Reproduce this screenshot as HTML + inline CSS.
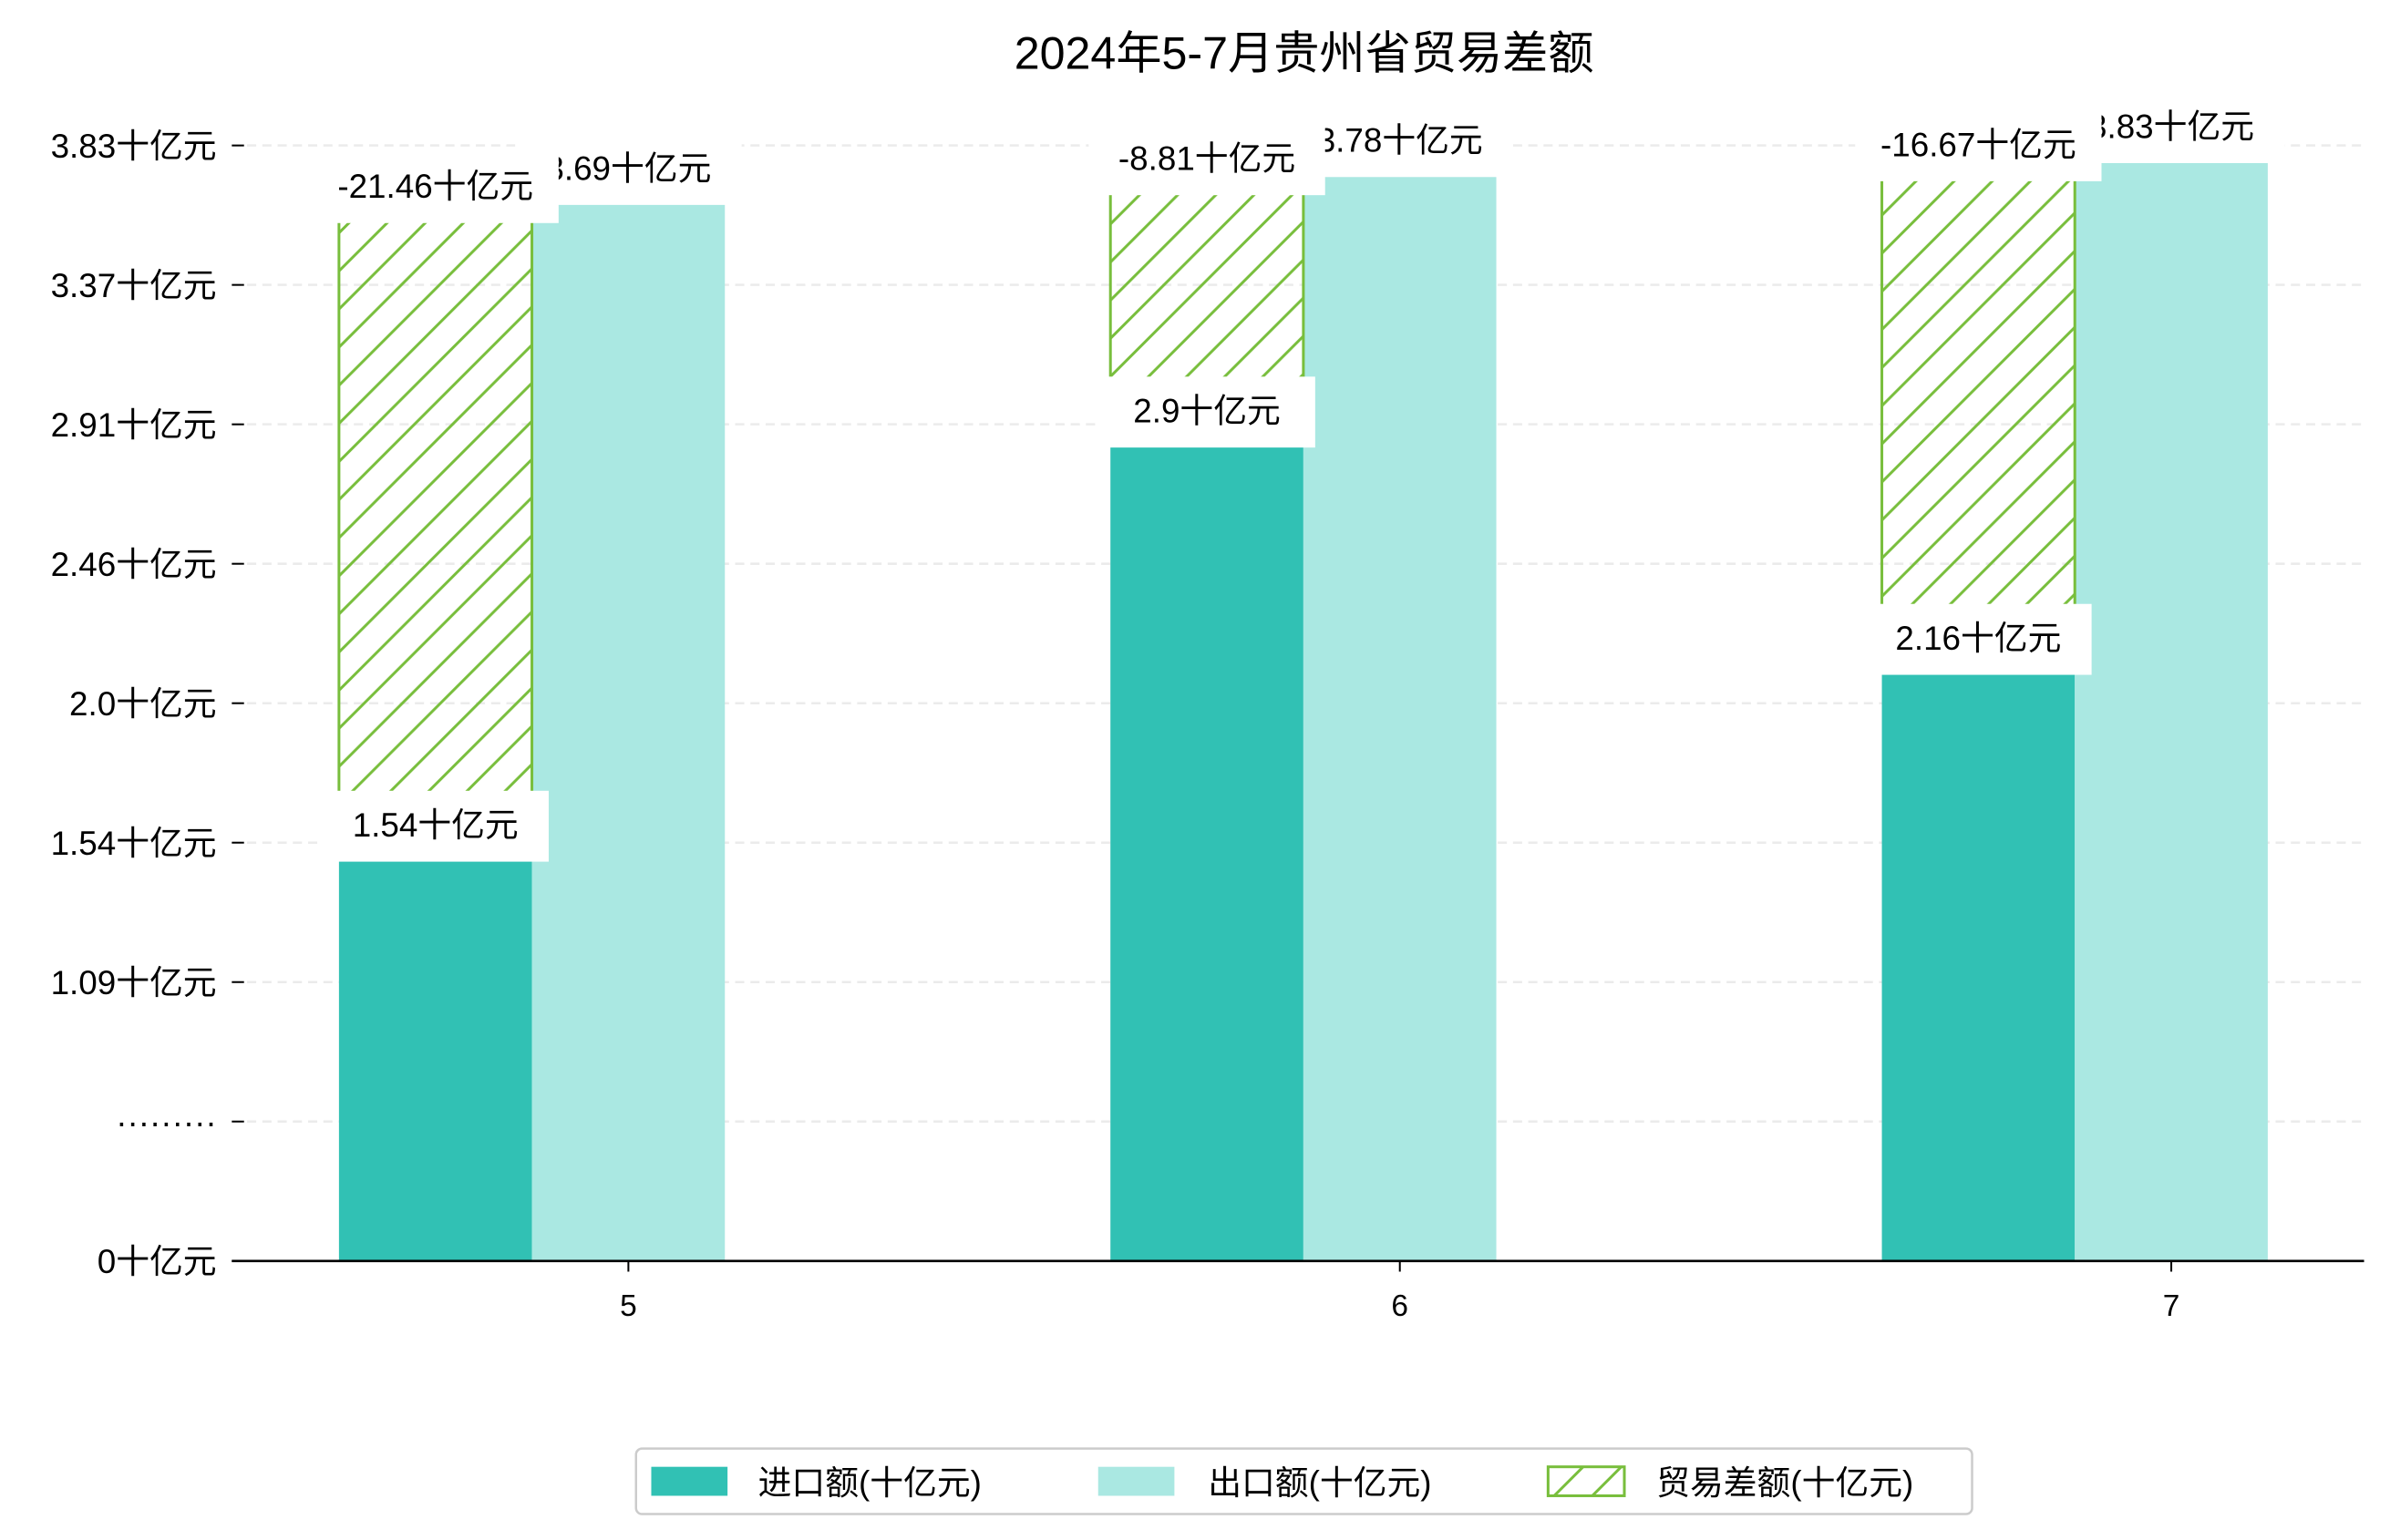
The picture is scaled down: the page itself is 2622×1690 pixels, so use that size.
<!DOCTYPE html>
<html><head><meta charset="utf-8">
<style>
html,body{margin:0;padding:0;background:#fff;}
svg{display:block;}
text{font-family:"Liberation Sans","Noto Sans CJK SC",sans-serif;}
</style></head>
<body>
<svg id="chart" width="2622" height="1690" viewBox="0 0 1567 1010" xmlns="http://www.w3.org/2000/svg">
<defs>
<pattern id="hatch" patternUnits="userSpaceOnUse" width="25" height="25">
<path d="M-5,30 L30,-5 M-30,30 L30,-30 M0,50 L50,0" stroke="#78be3c" stroke-width="1.8"/>
</pattern>
</defs>
<text x="855" y="45" font-size="30" text-anchor="middle" fill="#000">2024年5-7月贵州省贸易差额</text>
<g id="grid"></g>
<g id="bars"></g>
<g id="labels"></g>
<g id="axes"></g>
<g>
<rect x="417" y="950" width="876" height="43" rx="4" fill="#fff" stroke="#cccccc" stroke-width="1.5"/>
<rect x="427" y="962" width="50" height="19" fill="#31c1b4"/>
<text x="497" y="980" font-size="22">进口额(十亿元)</text>
<rect x="720" y="962" width="50" height="19" fill="#aae8e2"/>
<text x="792" y="980" font-size="22">出口额(十亿元)</text>
<rect x="1015" y="962" width="50" height="19" fill="url(#hatch)" stroke="#78be3c" stroke-width="1.8"/>
<text x="1086" y="980" font-size="22">贸易差额(十亿元)</text>
</g>
</svg>
<script>
const categories = ["5", "6", "7"];
const yTickLabels = ["0十亿元", "·········", "1.09十亿元", "1.54十亿元", "2.0十亿元", "2.46十亿元", "2.91十亿元", "3.37十亿元", "3.83十亿元"];
// bar heights in axis units (one unit per tick step)
const importValues = [2.88, 5.85, 4.22];
const exportValues = [7.59, 7.79, 7.89];
const balanceTops = [7.46, 7.66, 7.76];
const importLabels = ["1.54十亿元", "2.9十亿元", "2.16十亿元"];
const exportLabels = ["3.69十亿元", "3.78十亿元", "3.83十亿元"];
const balanceLabels = ["-21.46十亿元", "-8.81十亿元", "-16.67十亿元"];

const NS = "http://www.w3.org/2000/svg";
const X0 = 152, X1 = 1550, Y0 = 827, STEP = 91.45;
const CAT0 = 412, CATSTEP = 505.8, BW = 126.5;
function yScale(v){ return Y0 - v * STEP; }
function xCenter(i){ return CAT0 + i * CATSTEP; }
function mk(tag, attrs, parent){ const e = document.createElementNS(NS, tag); for (const k in attrs) e.setAttribute(k, attrs[k]); parent.appendChild(e); return e; }

const grid = document.getElementById('grid');
const axes = document.getElementById('axes');
yTickLabels.forEach((t, i) => {
  const y = yScale(i);
  if (i > 0) {
    const g = mk('line', {x1: X0, x2: X1, y1: y, y2: y, stroke: '#ebebeb', 'stroke-width': 1.5, 'stroke-dasharray': '6,4'}, grid);
    
    
  }
  const tk = mk('line', {x1: X0, x2: X0 + 8, y1: y, y2: y, stroke: '#000', 'stroke-width': 1.2}, axes);
  
  
  const tx = mk('text', {x: 142, y: y + 8, 'font-size': 22, 'text-anchor': 'end'}, axes);
  tx.textContent = t;
  
  
});
const ax = mk('line', {x1: X0, x2: X1, y1: Y0, y2: Y0, stroke: '#000', 'stroke-width': 1.6}, axes);


categories.forEach((c, i) => {
  const x = xCenter(i);
  const tk = mk('line', {x1: x, x2: x, y1: Y0, y2: Y0 + 7, stroke: '#000', 'stroke-width': 1.2}, axes);
  
  
  const tx = mk('text', {x: x, y: Y0 + 36, 'font-size': 20, 'text-anchor': 'middle'}, axes);
  tx.textContent = c;
  
  
});

const bars = document.getElementById('bars');
const labels = document.getElementById('labels');
function label(text, cx, bottom, name){
  const g = mk('g', {}, labels);
  
  
  const w = text.length * 6.5 + 103;
  mk('rect', {x: cx - w / 2, y: bottom - 45, width: w, height: 46.5, fill: '#fff'}, g);
  const t = mk('text', {x: cx, y: bottom - 15, 'font-size': 22, 'text-anchor': 'middle'}, g);
  t.textContent = text;
}
categories.forEach((c, i) => {
  const xi = xCenter(i) - 1.5 * BW, xe = xCenter(i) - 0.5 * BW;
  const r1 = mk('rect', {x: xi, y: yScale(importValues[i]), width: BW, height: Y0 - yScale(importValues[i]), fill: '#31c1b4'}, bars);
  
  
  const r2 = mk('rect', {x: xe, y: yScale(exportValues[i]), width: BW, height: Y0 - yScale(exportValues[i]), fill: '#aae8e2'}, bars);
  
  
  const top = yScale(balanceTops[i]), bot = yScale(importValues[i]);
  const r3 = mk('rect', {x: xi, y: top, width: BW, height: bot - top, fill: 'url(#hatch)', stroke: '#78be3c', 'stroke-width': 1.8}, bars);
  
  
});
categories.forEach((c, i) => {
  label(exportLabels[i], xCenter(i), yScale(exportValues[i]), 'export-value-label-' + c);
});
categories.forEach((c, i) => {
  label(importLabels[i], xCenter(i) - BW, yScale(importValues[i]), 'import-value-label-' + c);
  label(balanceLabels[i], xCenter(i) - BW, yScale(balanceTops[i]), 'balance-value-label-' + c);
});
</script>
</body></html>
